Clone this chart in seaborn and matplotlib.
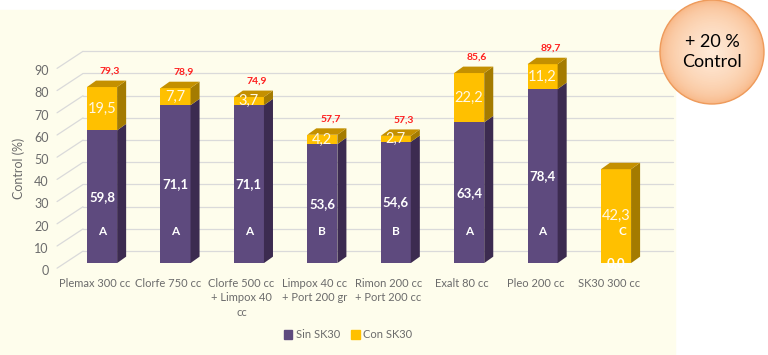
import matplotlib
matplotlib.use('Agg')
import matplotlib.pyplot as plt
import seaborn as sns
import pandas as pd
import numpy as np
from matplotlib.patches import Polygon, Rectangle, Circle, Patch

# datos del grafico
tratamientos = ['Plemax 300 cc', 'Clorfe 750 cc', 'Clorfe 500 cc\n+ Limpox 40\ncc',
                'Limpox 40 cc\n+ Port 200 gr', 'Rimon 200 cc\n+ Port 200 cc',
                'Exalt 80 cc', 'Pleo 200 cc', 'SK30 300 cc']
sin_sk30 = [59.8, 71.1, 71.1, 53.6, 54.6, 63.4, 78.4, 0.0]
con_sk30 = [19.5, 7.7, 3.7, 4.2, 2.7, 22.2, 11.2, 42.3]
totales = [79.3, 78.9, 74.9, 57.7, 57.3, 85.6, 89.7, None]
letras = ['A', 'A', 'A', 'B', 'B', 'A', 'A', 'C']
yticks = [0, 10, 20, 30, 40, 50, 60, 70, 80, 90]

morado = '#5E4A7E'
morado_lado = '#3C2B50'
amarillo = '#FFC000'
amarillo_top = '#C49000'
amarillo_lado = '#A47B00'
gris = '#6B6B6B'

sns.set_theme(style='white')
plt.rcParams['font.family'] = ['Lato', 'DejaVu Sans']

data = pd.DataFrame({'tratamiento': tratamientos,
                     'sin': sin_sk30,
                     'con': con_sk30})
data['total'] = data['sin'] + data['con']

fig = plt.figure(figsize=(7.68, 3.55), dpi=100)
ax = fig.add_axes([0, 0, 1, 1])

ancho = 0.41
dx, dy = 0.123, 2.9      # profundidad 3d
off_pared = 5.4          # pared del fondo

# fondo crema
ax.add_patch(Rectangle((-1.39, -41.4), 9.2, 155.5, color='#FEFDEC', zorder=0))

# lineas de la grilla con perspectiva
for v in yticks:
    ax.plot([-0.613, -0.259], [v - 2.3, v + off_pared], color='#DADADA', lw=0.9, zorder=1)
    ax.plot([-0.259, 7.77], [v + off_pared, v + off_pared], color='#DADADA', lw=0.9, zorder=1)

sns.barplot(data=data, x='tratamiento', y='total', color=amarillo, saturation=1,
            width=ancho, errorbar=None, ax=ax, zorder=3, linewidth=0)
sns.barplot(data=data, x='tratamiento', y='sin', color=morado, saturation=1,
            width=ancho, errorbar=None, ax=ax, zorder=3, linewidth=0)

for i in range(len(tratamientos)):
    s = sin_sk30[i]
    t = s + con_sk30[i]
    x1 = i + ancho / 2
    x0 = i - ancho / 2
    ax.add_patch(Polygon([(x1, 0), (x1 + dx, dy), (x1 + dx, s + dy), (x1, s)],
                         color=morado_lado, zorder=3, lw=0))
    ax.add_patch(Polygon([(x1, s), (x1 + dx, s + dy), (x1 + dx, t + dy), (x1, t)],
                         color=amarillo_lado, zorder=3, lw=0))
    ax.add_patch(Polygon([(x0, t), (x1, t), (x1 + dx, t + dy), (x0 + dx, t + dy)],
                         color=amarillo_top, zorder=3, lw=0))

    # etiquetas
    ax.text(i, s / 2, f'{s:.1f}'.replace('.', ','), ha='center', va='center',
            color='white', fontsize=9.5, fontweight='bold', zorder=5)
    ax.text(i, s + con_sk30[i] / 2, f'{con_sk30[i]:.1f}'.replace('.', ','), ha='center',
            va='center', color='#FFF8E6', fontsize=10.5, zorder=5)
    ax.text(i + (0.09 if s == 0 else 0), 14.4, letras[i], ha='center', va='center',
            color='white', fontsize=8.5, fontweight='bold', zorder=5)
    if totales[i] is not None:
        ax.text(i + 0.11, t + dy + 4.2, f'{totales[i]:.1f}'.replace('.', ','),
                ha='center', va='center', color='#FF1F1F', fontsize=7.5,
                fontweight='bold', zorder=5)

# ejes
ax.set_xlim(-1.39, 9.07)
ax.set_ylim(-41.4, 118.5)
for sp in ['top', 'right']:
    ax.spines[sp].set_visible(False)
ax.spines['left'].set_position(('data', -0.613))
ax.spines['bottom'].set_position(('data', -5.6))
ax.spines['left'].set_visible(False)
ax.spines['bottom'].set_visible(False)
ax.set_yticks(np.array(yticks) - 3.15, labels=[str(v) for v in yticks])
ax.set_xticks(np.arange(len(tratamientos)) - 0.1, labels=tratamientos)
ax.tick_params(axis='y', length=0, pad=6, labelsize=9, labelcolor=gris)
ax.tick_params(axis='x', length=0, pad=2, labelsize=8, labelcolor=gris)
for lab in ax.get_xticklabels():
    lab.set_linespacing(1.35)
ax.set_xlabel('')
ax.set_ylabel('Control (%)', fontsize=9, color=gris)
ax.yaxis.set_label_coords(25 / 768, 1 - 168 / 355)
ax.grid(False)
ax.set_facecolor('white')

# leyenda
handles = [Patch(color=morado), Patch(color=amarillo)]
fig.legend(handles, ['Sin SK30', 'Con SK30'], loc='center',
           bbox_to_anchor=(348 / 768, 1 - 335 / 355), ncol=2, frameon=False,
           fontsize=8, handlelength=0.8, handleheight=0.8, columnspacing=1.0,
           handletextpad=0.3, labelcolor=gris)

# circulo con degradado
n = 40
cols = sns.blend_palette(['#F7B07A', '#FEE9D6'], n)
for k, c in enumerate(cols):
    r = 0.52 * (1 - (k / n) ** 2.2)
    fig.patches.append(Circle((7.12, 3.03), r, transform=fig.dpi_scale_trans,
                              color=c, lw=0, zorder=6))
fig.patches.append(Circle((7.12, 3.03), 0.52, transform=fig.dpi_scale_trans,
                          fill=False, ec='#EE9B5C', lw=1, zorder=7))
fig.text(7.12 / 7.68, 3.03 / 3.55, '+ 20 %\nControl', ha='center', va='center',
         fontsize=13, color='black', linespacing=1.25, zorder=8)

plt.savefig('out.png', dpi=100)
